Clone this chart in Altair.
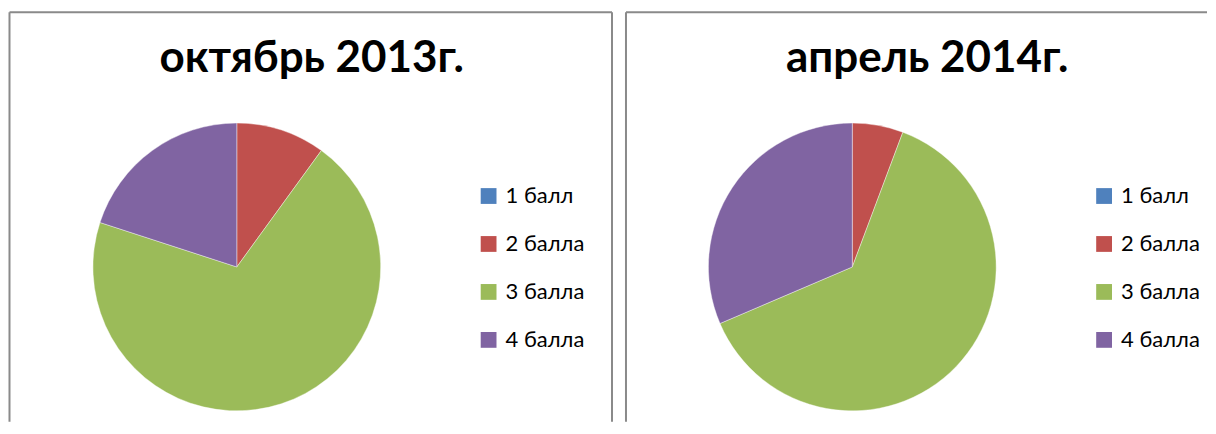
import altair as alt
import pandas as pd

categories = ["1 балл", "2 балла", "3 балла", "4 балла"]
colors = ["#4F81BD", "#C0504D", "#9BBB59", "#8064A2"]
oct_values = [0, 3, 21, 6]
apr_values = [0, 2, 22, 11]
titles = ["октябрь 2013г.", "апрель 2014г."]

H = 414
FONT = "Lato"


def panel(values, title, width, cx, border_left, border_right, title_x, legend_x):
    df = pd.DataFrame({"cat": categories, "value": values, "idx": list(range(len(categories)))})
    base = alt.Chart(df)
    pie = base.mark_arc(radius=144, stroke="#ffffff", strokeWidth=0.4).encode(
        theta=alt.Theta("value:Q", stack=True),
        order=alt.Order("idx:O"),
        color=alt.Color(
            "cat:N",
            scale=alt.Scale(domain=categories, range=colors),
            legend=alt.Legend(
                orient="none", legendX=legend_x, legendY=177, title=None,
                symbolType="square", symbolSize=250, symbolStrokeWidth=0,
                labelFontSize=22, labelFont=FONT, labelColor="#000000",
                labelOffset=6, rowPadding=26,
            ),
        ),
        x=alt.value(cx),
        y=alt.value(259),
    )
    tdf = alt.Data(values=[{"t": title}])
    ttl = alt.Chart(tdf).mark_text(
        font=FONT, fontSize=44, fontWeight="bold", color="#000000",
        align="center", baseline="alphabetic",
    ).encode(text="t:N", x=alt.value(title_x), y=alt.value(64))
    one = alt.Data(values=[{"a": 1}])
    rules = []
    if border_left is not None:
        rules.append(alt.Chart(one).mark_rule(color="#8a8a8a", strokeWidth=2).encode(
            x=alt.value(border_left), y=alt.value(4), y2=alt.value(H)))
    if border_right is not None:
        rules.append(alt.Chart(one).mark_rule(color="#8a8a8a", strokeWidth=2).encode(
            x=alt.value(border_right), y=alt.value(4), y2=alt.value(H)))
    rules.append(alt.Chart(one).mark_rule(color="#8a8a8a", strokeWidth=2).encode(
        x=alt.value(border_left), x2=alt.value(border_right if border_right is not None else width),
        y=alt.value(4)))
    return alt.layer(*rules, pie, ttl).properties(width=width, height=H)


left = panel(oct_values, titles[0], 610, 229, 1.5, 604.5, 304, 470)
right = panel(apr_values, titles[1], 586, 231, 4.5, None, 306, 472)

chart = alt.hconcat(left, right, spacing=4).resolve_legend(color="independent").properties(
    padding=0, background="#ffffff"
).configure_view(stroke=None)

chart.save("out.html", embed_options={"renderer": "svg", "actions": False})
